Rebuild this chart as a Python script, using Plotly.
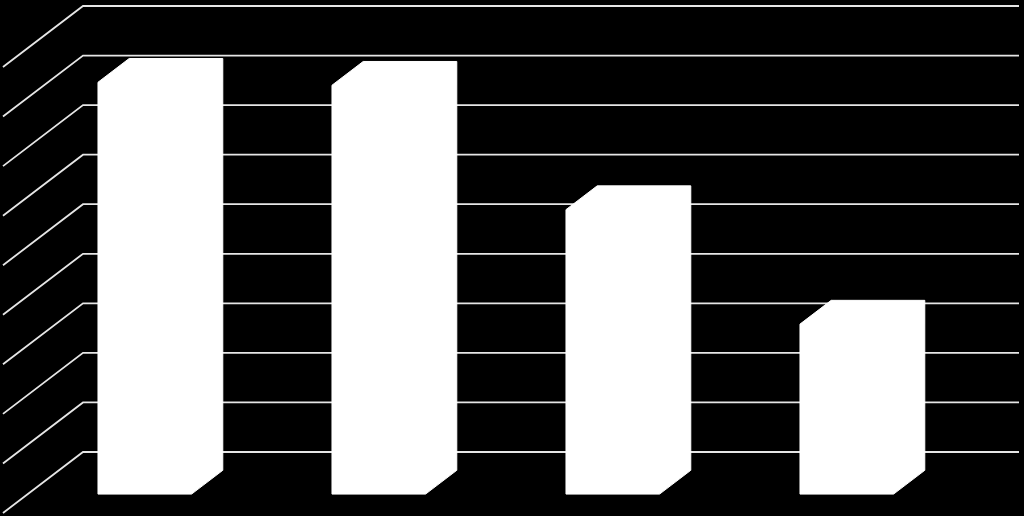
import plotly.graph_objects as go

# data (value axis 0..90, step 10)
categories = ["A", "B", "C", "D"]
values = [83.1, 82.5, 57.4, 34.3]
grid_values = [0, 10, 20, 30, 40, 50, 60, 70, 80, 90]

# 3d look: depth vector of the floor in axis units, and where the bars sit in it
DEPTH_X = -0.342
DEPTH_Y = -12.31
D_BACK = 0.3
D_FRONT = 0.69
HALF_W = 0.2

fig = go.Figure()

# wall gridlines + diagonal side-wall lines
gx, gy = [], []
for v in grid_values:
    gx += [-0.5 + DEPTH_X, -0.5, 3.5, None]
    gy += [v + DEPTH_Y, v, v, None]
fig.add_scatter(x=gx, y=gy, mode='lines', line=dict(color='#e6e6e6', width=1.8),
                hoverinfo='skip', showlegend=False)

# bars as white prisms (front, top and side faces are all white -> one outline)
for i, (name, val) in enumerate(zip(categories, values)):
    xl, xr = i - HALF_W, i + HALF_W
    bx, by = DEPTH_X * D_BACK, DEPTH_Y * D_BACK
    fx, fy = DEPTH_X * D_FRONT, DEPTH_Y * D_FRONT
    px = [xl + fx, xl + fx, xl + bx, xr + bx, xr + bx, xr + fx, xl + fx]
    py = [0 + fy, val + fy, val + by, val + by, 0 + by, 0 + fy, 0 + fy]
    fig.add_scatter(x=px, y=py, mode='lines', fill='toself', fillcolor='white',
                    line=dict(color='white', width=1), name=name,
                    hoverinfo='skip', showlegend=False)

fig.update_layout(
    width=1024, height=516,
    margin=dict(l=0, r=0, t=0, b=0),
    paper_bgcolor='black', plot_bgcolor='black',
    xaxis=dict(range=[-200 / 234, 824 / 234], visible=False, fixedrange=True),
    yaxis=dict(range=[-64 / (446 / 90), 452 / (446 / 90)], visible=False, fixedrange=True),
)

fig.write_html("out.html", config={'displayModeBar': False},
               post_script="document.body.style.margin='0';document.body.style.background='black';")
